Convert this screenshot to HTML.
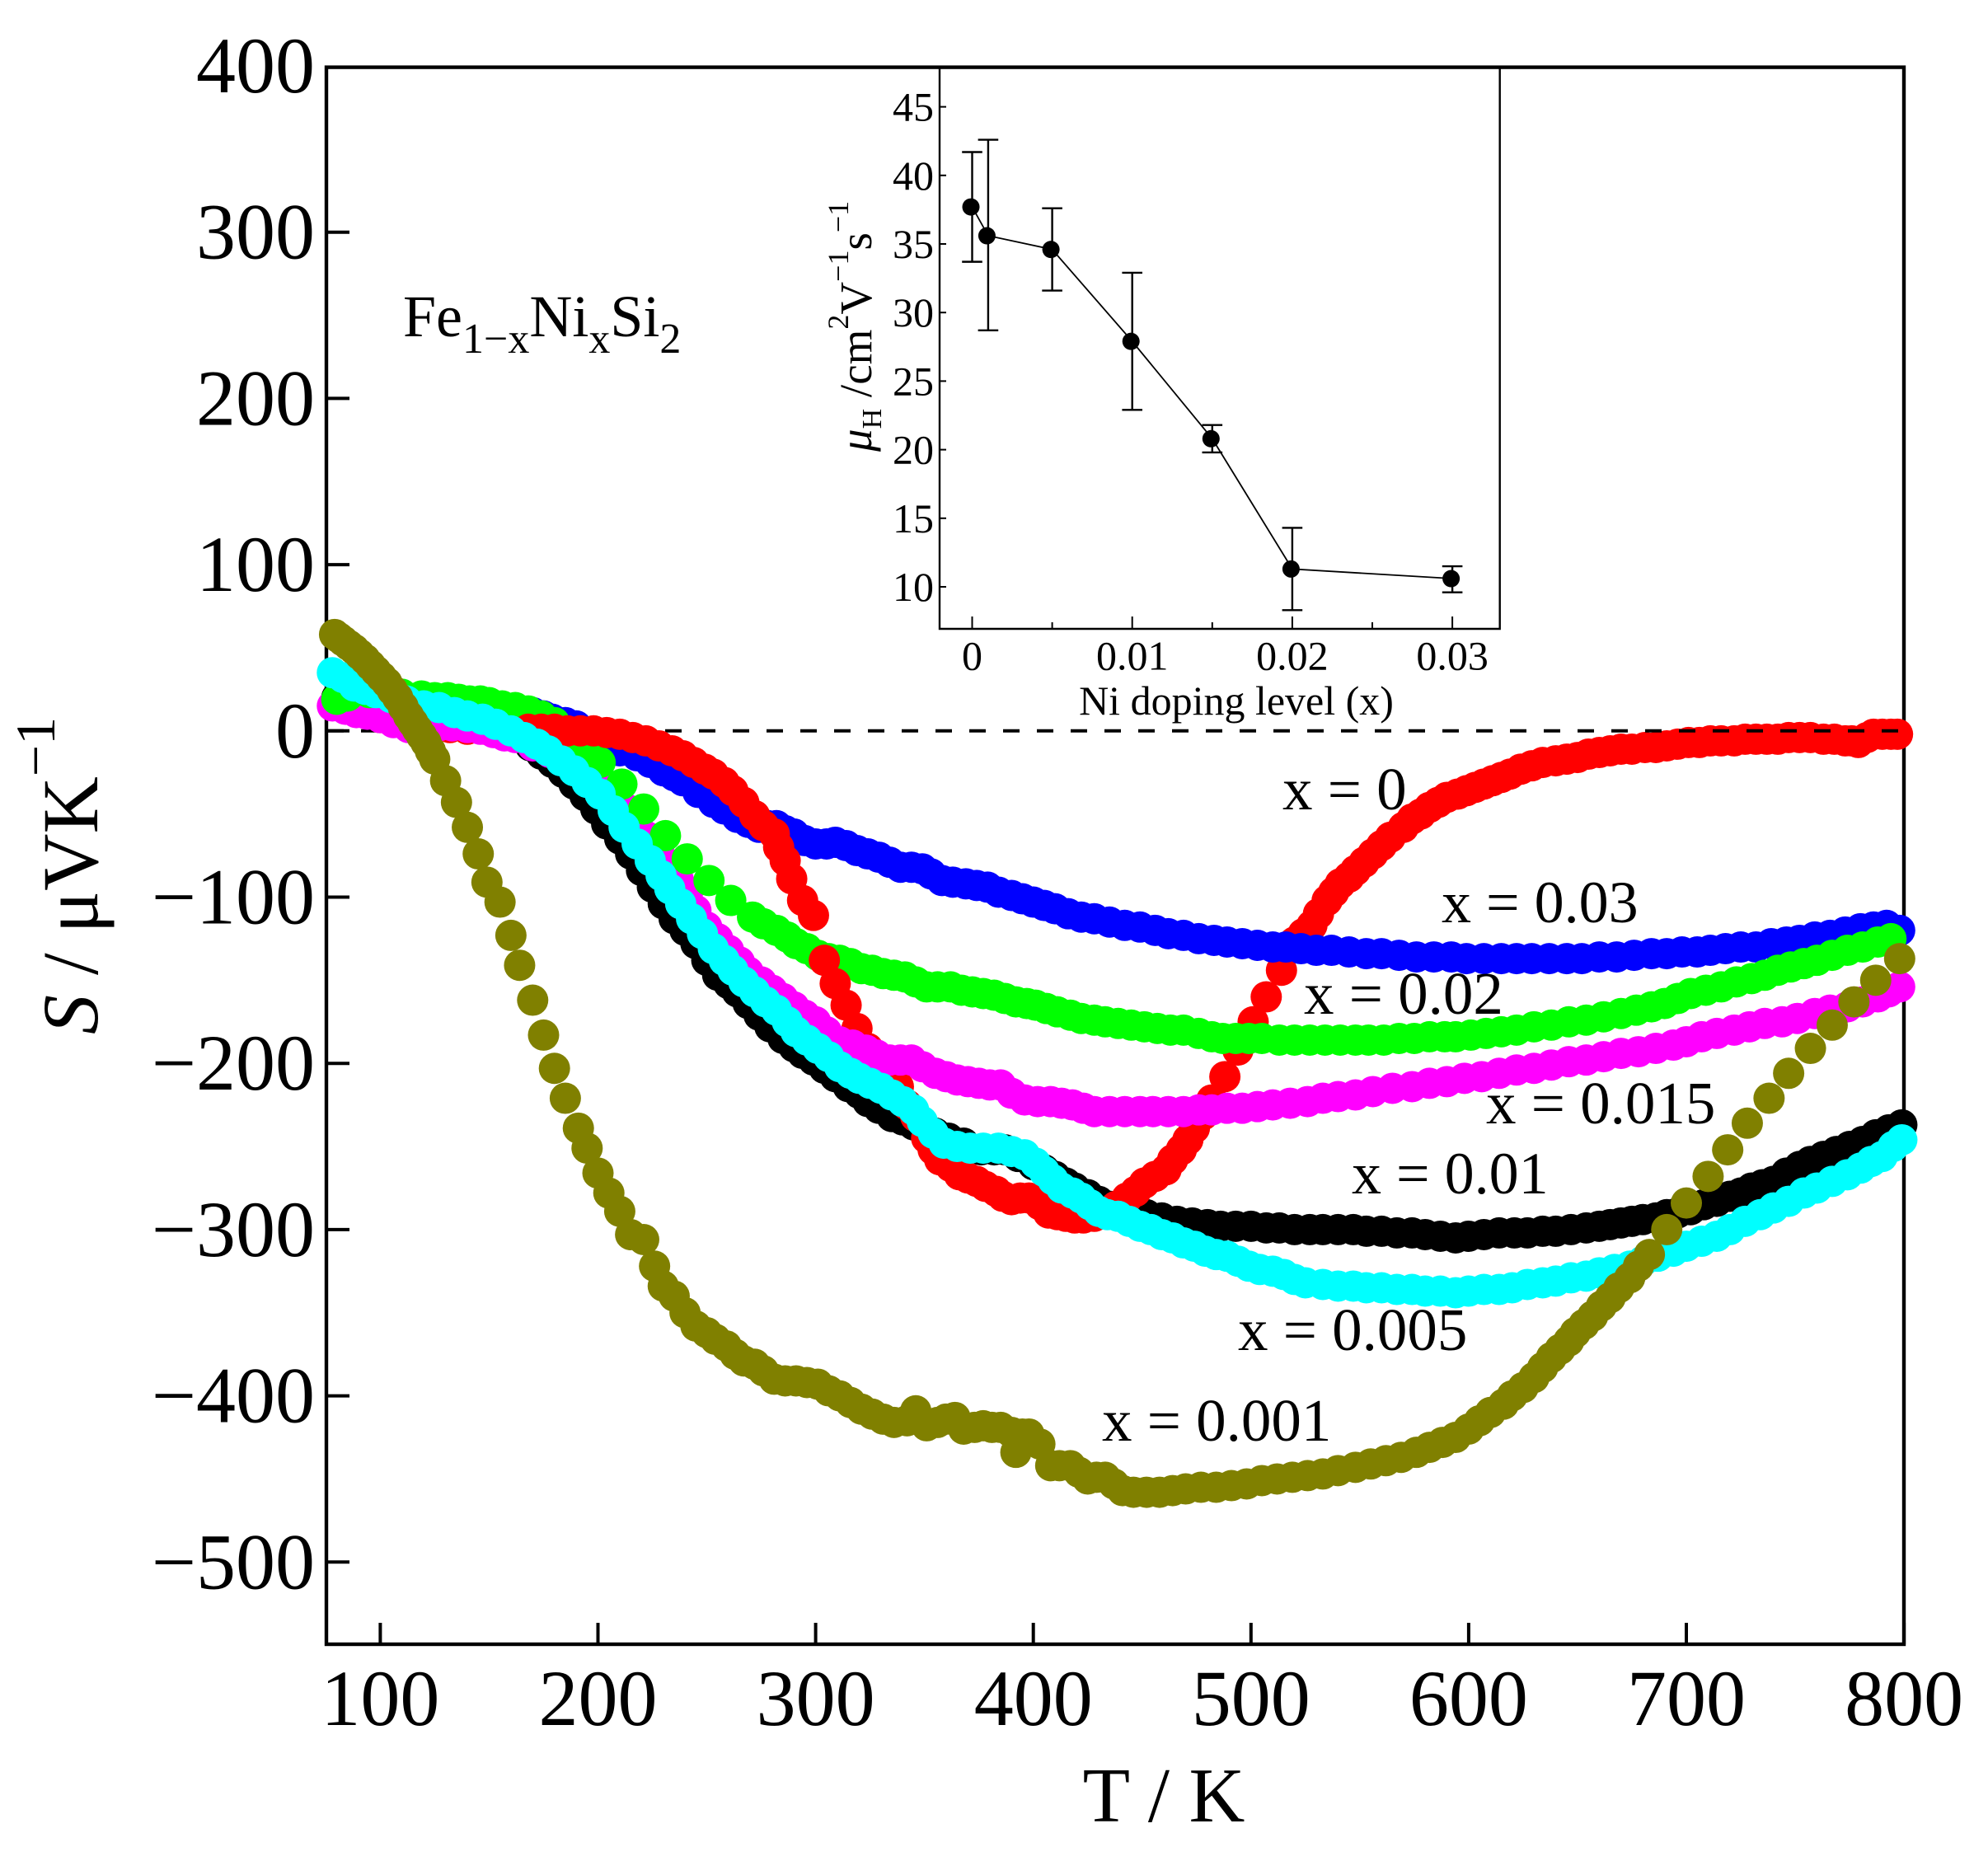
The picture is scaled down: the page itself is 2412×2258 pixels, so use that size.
<!DOCTYPE html>
<html lang="en">
<head>
<meta charset="utf-8">
<title>Seebeck coefficient of Fe1-xNixSi2</title>
<style>
html,body{margin:0;padding:0;background:#fff;}
svg{display:block;}
text{font-family:"Liberation Serif","DejaVu Serif",serif;fill:#000;}
</style>
</head>
<body>
<svg xmlns="http://www.w3.org/2000/svg" width="2412" height="2258" viewBox="0 0 2412 2258">
  <rect x="0" y="0" width="2412" height="2258" fill="#fff"/>
  <g id="main-axes"></g>
  <g id="main-series"></g>
  <g id="main-labels">
    <text x="489" y="408" font-size="72">Fe<tspan font-size="52" dy="20">1−x</tspan><tspan dy="-20">Ni</tspan><tspan font-size="52" dy="20">x</tspan><tspan dy="-20">Si</tspan><tspan font-size="52" dy="20">2</tspan></text>
    <text x="1556" y="982" font-size="73">x = 0</text>
    <text x="1749" y="1119" font-size="72">x = 0.03</text>
    <text x="1582" y="1230" font-size="73">x = 0.02</text>
    <text x="1803" y="1363" font-size="73">x = 0.015</text>
    <text x="1640" y="1448" font-size="72">x = 0.01</text>
    <text x="1502" y="1638" font-size="73">x = 0.005</text>
    <text x="1337" y="1748" font-size="73">x = 0.001</text>
    <text x="1412" y="2210" font-size="94" text-anchor="middle">T / K</text>
    <text transform="translate(118,1255) rotate(-90)" font-size="96"><tspan font-style="italic">S</tspan> / μVK<tspan font-size="68" dy="-52">−1</tspan></text>
  </g>
  <g id="inset">
    <text x="1500" y="867" font-size="50" text-anchor="middle">Ni doping level (x)</text>
    <text transform="translate(1057,548) rotate(-90)" font-size="55"><tspan font-style="italic">μ</tspan><tspan font-size="34" dy="12">H</tspan><tspan dy="-12"> /cm</tspan><tspan font-size="36" dy="-28">2</tspan><tspan dy="28">V</tspan><tspan font-size="36" dy="-28">−1</tspan><tspan dy="28">s</tspan><tspan font-size="36" dy="-28">−1</tspan></text>
  </g>
</svg>
<script>
// Main chart: tick values
const xTickValues = [100, 200, 300, 400, 500, 600, 700, 800];
const yTickValues = [400, 300, 200, 100, 0, -100, -200, -300, -400, -500];

// x = 0.001 (olive)
const tOlive = [79,81,83,85.5,88,90.5,93,95.5,98,100.5,103,105.5,108,110.5,113,115,117,119,121,123,125,130,135,140,145,149,155,160,164,170,175,180,185,191,195,200,205,210,215,221,226,230,235,240,245,250,254,259,263,267,272,276,281,286,291,296,301,306,311,316,321,326,331,336,342,346,351,356,360,364,368,373,377,381,385,390,392,395,398,403,408,412,417,421,425,429,433,437,441,446,452,458,464,470,477,484,491,498,505,512,519,526,533,540,548,555,562,569,576,582,588,594,600,605,610,616,620,625,630,634,638,642,646,649,653,657,661,665,669,674,678,683,691,700,710,719,728,738,747,757,767,777,787,798];
const sOlive = [58,56,54,51.5,49,46,43,39.5,36,32.5,29,24.5,20,14.5,9,5,1,-3,-7,-12,-17,-30,-43,-58,-74,-91,-103,-123,-141,-162,-183,-203,-221,-239,-251,-266,-278,-289,-303,-306,-322,-334,-340,-350,-358,-362,-366,-370,-375,-379,-381,-385,-390,-391,-391,-392,-393,-397,-400,-404,-408,-411,-414,-416,-415,-409,-418,-416,-414,-413,-420,-419,-418,-419,-419,-422,-434,-423,-423,-429,-442,-442,-442,-446,-450,-449,-449,-453,-457,-458,-458,-458,-457,-456,-455,-455,-454,-453,-451,-450,-449,-448,-447,-445,-443,-441,-439,-437,-434,-431,-428,-425,-420,-415,-410,-405,-400,-395,-389,-383,-377,-372,-367,-362,-357,-352,-346,-341,-335,-329,-322,-315,-300,-284,-268,-252,-236,-221,-206,-191,-177,-163,-150,-137];

// x = 0 (red)
const tRed = [80,85,92,100,108,116,124,132,140,148,156,162,168,174,180,186,192,198,204,210,216,222,228,234,239,244,249,253,258,262,267,272,276,281,283,286,289,294,299,304,309,314,319,324,329,334,338,342,346,351,354,357,362,366,370,374,378,383,386,390,394,398,403,407,411,415,419,423,428,433,438,443,447,451,456,461,464,468,471,474,478,482,488,494,501,507,514,520,524,528,531,535,538,541,545,548,552,556,560,564,570,574,578,582,586,590,595,599,603,607,611,615,619,624,629,634,640,645,650,655,660,665,670,675,681,686,691,696,701,706,711,716,722,727,732,737,742,747,752,757,763,768,773,776,779,783,786,790,794,797];
const sRed = [17,15,12,8,6,4,3,2,1,1,1,1,1,1,1,0,0,0,-1,-2,-4,-6,-9,-12,-15,-19,-23,-26,-31,-36,-43,-51,-57,-62,-70,-78,-89,-102,-111,-138,-152,-165,-179,-191,-201,-207,-214,-225,-232,-245,-252,-258,-262,-267,-269,-271,-274,-277,-280,-282,-281,-281,-285,-290,-291,-292,-293,-293,-292,-290,-286,-281,-277,-272,-268,-264,-258,-252,-246,-239,-231,-222,-208,-192,-175,-160,-144,-127,-122,-117,-110,-102,-97,-92,-88,-84,-79,-74,-69,-64,-58,-53,-50,-46,-43,-40,-38,-36,-34,-32,-30,-28,-26,-23,-21,-19,-18,-17,-16,-14,-13,-12,-11,-11,-10,-10,-9,-8,-7,-7,-6,-6,-6,-5,-5,-5,-5,-4,-4,-4,-5,-5,-6,-6,-7,-4,-2,-2,-2,-2];

// x = 0.03 (blue)
const tBlue = [81,85,95,105,115,122,127,134,141,148,154,160,165,170,175,179,185,190,196,202,210,218,224,230,235,239,246,253,258,264,269,274,278,282,286,290,295,300,305,309,314,319,324,329,334,339,344,349,353,358,363,369,374,379,384,390,395,400,405,410,416,422,428,435,442,449,456,462,469,476,483,489,496,503,510,516,523,530,537,545,553,560,568,576,584,592,599,607,615,622,629,637,645,652,660,668,676,684,691,698,705,711,718,725,732,739,746,752,759,766,773,780,786,792,798];
const sBlue = [18,17,16,15,15,14,14,14,15,15,14,13,12,11,9,7,5,3,-3,-9,-12,-15,-19,-24,-27,-30,-37,-43,-47,-52,-55,-58,-57,-57,-60,-62,-66,-68,-68,-67,-69,-72,-74,-76,-79,-82,-82,-83,-86,-90,-91,-92,-93,-94,-97,-99,-101,-103,-105,-107,-110,-112,-113,-115,-117,-118,-120,-122,-123,-125,-126,-127,-128,-129,-130,-130,-131,-132,-132,-133,-134,-134,-135,-136,-136,-136,-137,-137,-137,-137,-137,-137,-137,-137,-136,-136,-135,-134,-134,-133,-133,-132,-131,-130,-130,-128,-127,-126,-124,-123,-121,-119,-118,-117,-120];

// x = 0.02 (green)
const tGreen = [80,85,95,105,110,119,125,131,136,141,146,150,156,162,168,174,180,185,190,195,201,211,221,231,241,251,261,271,276,282,287,291,296,301,306,311,316,321,326,331,336,341,346,351,356,362,367,372,377,382,387,392,397,401,406,411,417,422,428,433,439,445,451,457,463,469,476,482,487,493,499,505,513,520,527,534,541,548,554,561,568,575,582,589,594,601,608,615,622,630,638,646,654,662,670,677,684,690,696,702,709,716,723,730,736,742,748,754,760,767,774,781,788,794];
const sGreen = [19,21,23,23,22,21,20,20,19,18,18,17,15,14,12,9,5,0,-5,-11,-19,-32,-47,-63,-77,-90,-102,-112,-116,-120,-124,-128,-131,-135,-137,-138,-140,-143,-144,-146,-147,-148,-151,-154,-154,-154,-156,-157,-158,-159,-161,-163,-164,-165,-167,-169,-171,-173,-174,-175,-176,-177,-178,-179,-180,-180,-182,-184,-185,-185,-185,-185,-186,-186,-186,-186,-186,-186,-186,-186,-185,-185,-184,-184,-184,-183,-182,-181,-180,-178,-177,-175,-174,-172,-170,-168,-166,-164,-161,-158,-156,-154,-151,-149,-147,-144,-142,-140,-138,-135,-132,-130,-127,-125];

// x = 0.015 (magenta)
const tMagenta = [78,84,89,94,100,106,113,120,127,133,140,146,152,157,162,170,178,186,194,202,208,213,218,223,228,232,237,241,245,250,255,260,265,269,275,280,285,290,295,300,305,311,317,323,328,334,339,344,349,355,360,365,370,375,380,385,390,396,402,408,413,418,423,428,435,442,449,455,462,469,476,482,489,496,503,510,518,526,533,540,548,556,565,574,582,590,598,606,614,622,630,638,646,654,662,670,678,686,694,700,707,714,722,729,736,744,751,759,766,774,781,788,793,798];
const sMagenta = [15,13,11,10,8,5,2,3,3,3,2,1,-1,-3,-4,-9,-13,-19,-25,-31,-38,-47,-55,-64,-73,-82,-90,-99,-108,-118,-125,-132,-139,-145,-151,-156,-161,-166,-171,-175,-181,-187,-189,-192,-195,-198,-198,-198,-202,-206,-208,-210,-211,-212,-213,-213,-218,-222,-223,-223,-224,-225,-227,-229,-229,-229,-229,-229,-229,-229,-228,-228,-227,-227,-226,-225,-224,-223,-221,-220,-219,-217,-215,-214,-212,-211,-209,-208,-206,-204,-203,-201,-199,-198,-196,-194,-193,-191,-189,-187,-184,-182,-180,-178,-176,-175,-173,-170,-168,-166,-163,-160,-157,-154];

// x = 0.01 (black)
const tBlack = [80,90,100,110,120,130,140,150,157,164,169,174,179,184,189,194,199,204,210,215,220,225,230,235,240,245,250,255,260,264,269,274,279,285,290,294,299,304,309,315,320,324,329,335,340,345,350,355,361,368,376,382,387,393,400,405,410,415,419,425,430,435,441,447,452,459,466,473,480,486,493,500,507,513,520,527,533,540,547,553,560,567,574,580,587,594,600,607,614,621,627,634,640,647,654,660,665,670,675,680,686,691,696,702,708,714,720,725,730,735,740,746,752,757,763,769,775,781,787,793,799];
const sBlack = [20,17,14,11,8,6,4,2,0,-4,-9,-14,-19,-25,-32,-39,-47,-56,-65,-74,-84,-94,-104,-113,-120,-128,-138,-147,-152,-157,-164,-171,-178,-185,-190,-194,-198,-203,-208,-214,-218,-223,-227,-232,-234,-237,-239,-242,-245,-248,-252,-252,-252,-256,-261,-264,-268,-272,-275,-279,-283,-286,-288,-290,-291,-293,-295,-296,-297,-298,-298,-298,-299,-299,-300,-300,-300,-300,-300,-301,-301,-302,-302,-303,-304,-305,-304,-303,-302,-302,-302,-301,-301,-300,-299,-298,-297,-296,-295,-294,-293,-291,-290,-288,-285,-283,-280,-278,-275,-273,-271,-266,-262,-259,-256,-253,-250,-247,-243,-240,-237];

// x = 0.005 (cyan)
const tCyan = [78,83,88,93,98,105,112,120,127,134,140,147,153,160,166,172,177,183,189,195,201,207,212,218,224,229,233,238,243,248,253,258,262,267,272,277,282,287,291,296,301,306,311,316,320,325,330,335,340,345,349,354,359,365,371,377,384,390,396,401,405,409,413,418,422,426,430,434,439,444,449,454,459,464,469,474,479,484,489,494,499,504,510,515,520,525,533,540,547,553,560,567,574,580,587,594,600,607,614,620,627,634,640,647,654,660,667,674,680,687,694,700,707,714,720,727,734,740,747,754,760,767,774,780,785,790,795,799];
const sCyan = [35,32,27,25,23,20,18,15,14,11,9,7,4,0,-4,-8,-12,-18,-24,-31,-38,-48,-58,-68,-78,-87,-95,-104,-113,-122,-131,-138,-144,-151,-157,-163,-168,-175,-181,-186,-191,-196,-202,-206,-209,-212,-215,-219,-223,-228,-235,-242,-248,-250,-251,-251,-251,-253,-255,-260,-265,-270,-275,-278,-281,-285,-289,-291,-292,-295,-298,-300,-303,-305,-308,-310,-313,-315,-316,-319,-322,-324,-325,-327,-330,-332,-333,-334,-334,-335,-335,-336,-336,-337,-337,-338,-337,-336,-336,-335,-333,-332,-331,-329,-328,-326,-324,-322,-319,-316,-313,-310,-307,-304,-300,-295,-291,-287,-283,-278,-275,-271,-267,-263,-259,-256,-250,-246];

// Inset data
const insetXTickValues = [0, 0.01, 0.02, 0.03];
const insetXMinorTickValues = [0.005, 0.015, 0.025];
const insetYTickValues = [45, 40, 35, 30, 25, 20, 15, 10];
const insetDoping = [0, 0.001, 0.005, 0.01, 0.015, 0.02, 0.03];
const insetMobility = [37.7, 35.6, 34.6, 27.9, 20.8, 11.3, 10.6];
const insetErrorHigh = [41.7, 42.6, 37.6, 32.9, 21.8, 14.3, 11.5];
const insetErrorLow = [33.7, 28.7, 31.6, 22.9, 19.8, 8.3, 9.6];

const SVG_NS = 'http://www.w3.org/2000/svg';
function xScale(t) { return 461.4 + (t - 100) * 2.641; }
function yScale(s) { return 886.8 - s * 2.017; }
function insetX(d) { return 1179.5 + d * 19420; }
function insetY(m) { return 712 - (m - 10) * 16.64; }

function make(tag, parent, attrs) {
  const el = document.createElementNS(SVG_NS, tag);
  for (const k in attrs) el.setAttribute(k, attrs[k]);
  parent.appendChild(el);
  return el;
}

const axesGroup = document.getElementById('main-axes');
const seriesGroup = document.getElementById('main-series');
const insetGroup = document.getElementById('inset');

function drawMainAxes() {
  let el = make('rect', axesGroup, { x: 396, y: 81.6, width: 1914, height: 1913.4, fill: 'none', stroke: '#000', 'stroke-width': 4.4 });
  
  
  yTickValues.forEach(function (v) {
    if (v !== 400) {
      const tick = make('line', axesGroup, { x1: 396, x2: 424, y1: yScale(v), y2: yScale(v), stroke: '#000', 'stroke-width': 4 });
      
      
    }
    const label = make('text', axesGroup, { x: 382, y: yScale(v) + 32, 'font-size': 96, 'text-anchor': 'end' });
    label.textContent = String(v).replace('-', '\u2212');
    
    
  });
  xTickValues.forEach(function (v) {
    const tick = make('line', axesGroup, { x1: xScale(v), x2: xScale(v), y1: 1969, y2: 1995, stroke: '#000', 'stroke-width': 4 });
    
    
    const label = make('text', axesGroup, { x: xScale(v), y: 2093, 'font-size': 96, 'text-anchor': 'middle' });
    label.textContent = String(v);
    
    
  });
}

function drawZeroLine() {
  const el = make('line', seriesGroup, { x1: 396, x2: 2308, y1: yScale(0), y2: yScale(0), stroke: '#000', 'stroke-width': 4, 'stroke-dasharray': '20 21', 'stroke-dashoffset': -1 });
  
  
}

function drawSeries(name, temps, values, color, tMin, tMax) {
  const group = make('g', seriesGroup, { fill: color });
  
  
  temps.forEach(function (t, i) {
    if (t < tMin || t >= tMax) return;
    const dot = make('circle', group, { cx: xScale(t), cy: yScale(values[i]), r: 19 });
    
    
  });
}

function drawInset() {
  const frame = make('path', insetGroup, { d: 'M1140 82V763H1819.7V82', fill: 'none', stroke: '#000', 'stroke-width': 2.4 });
  
  

  insetYTickValues.forEach(function (v) {
    const tick = make('line', insetGroup, { x1: 1140, x2: 1148, y1: insetY(v), y2: insetY(v), stroke: '#000', 'stroke-width': 2 });
    
    
    const label = make('text', insetGroup, { x: 1133, y: insetY(v) + 17, 'font-size': 50, 'text-anchor': 'end' });
    label.textContent = String(v);
    
    
  });
  insetXTickValues.forEach(function (v) {
    const tick = make('line', insetGroup, { x1: insetX(v), x2: insetX(v), y1: 748, y2: 763, stroke: '#000', 'stroke-width': 2 });
    
    
    const label = make('text', insetGroup, { x: insetX(v), y: 812.5, 'font-size': 50, 'text-anchor': 'middle' });
    label.textContent = String(v);
    
    
  });
  insetXMinorTickValues.forEach(function (v) {
    const tick = make('line', insetGroup, { x1: insetX(v), x2: insetX(v), y1: 755, y2: 763, stroke: '#000', 'stroke-width': 2 });
    
    
  });

  const pts = insetDoping.map(function (d, i) { return insetX(d) + ',' + insetY(insetMobility[i]); }).join(' ');
  const line = make('polyline', insetGroup, { points: pts, fill: 'none', stroke: '#000', 'stroke-width': 1.8 });
  
  

  insetDoping.forEach(function (d, i) {
    const x = insetX(d);
    const hi = insetY(insetErrorHigh[i]);
    const lo = insetY(insetErrorLow[i]);
    const err = make('path', insetGroup, { d: 'M' + (x - 12.3) + ' ' + hi + 'H' + (x + 12.3) + 'M' + x + ' ' + hi + 'V' + lo + 'M' + (x - 12.3) + ' ' + lo + 'H' + (x + 12.3), fill: 'none', stroke: '#000', 'stroke-width': 2.4 });
    
    
    const dot = make('circle', insetGroup, { cx: x - 1.5, cy: insetY(insetMobility[i]), r: 10.5, fill: '#000' });
    
    
  });
}

drawMainAxes();
drawSeries('series-x-0-01', tBlack, sBlack, '#000000', 0, 900);
drawSeries('series-x-0-high-t', tRed, sRed, '#ff0000', 430, 900);
drawZeroLine();
drawSeries('series-x-0-03', tBlue, sBlue, '#0000ff', 0, 900);
drawSeries('series-x-0-very-low-t', tRed, sRed, '#ff0000', 0, 165);
drawSeries('series-x-0-015-low-t', tMagenta, sMagenta, '#ff00ff', 0, 270);
drawSeries('series-x-0-02', tGreen, sGreen, '#00ff00', 0, 900);
drawSeries('series-x-0-low-t', tRed, sRed, '#ff0000', 165, 430);
drawSeries('series-x-0-015-high-t', tMagenta, sMagenta, '#ff00ff', 270, 900);
drawSeries('series-x-0-005', tCyan, sCyan, '#00ffff', 0, 900);
drawSeries('series-x-0-001', tOlive, sOlive, '#808000', 0, 900);
drawInset();
</script>
</body>
</html>
